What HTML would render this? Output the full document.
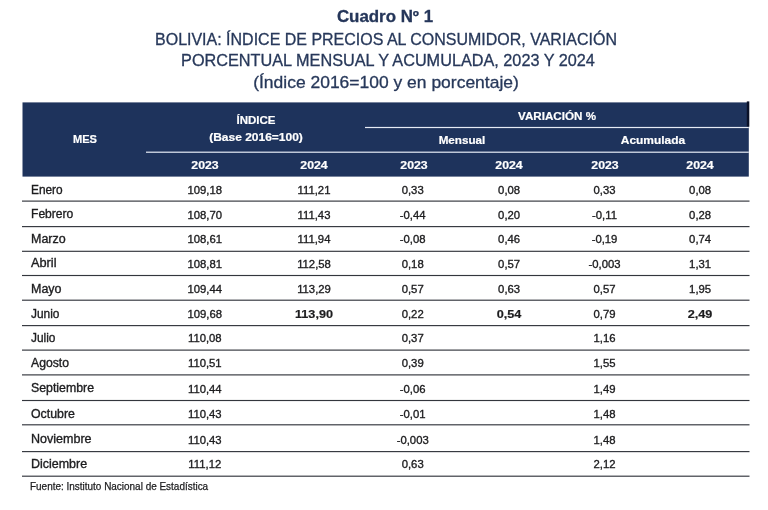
<!DOCTYPE html>
<html lang="es"><head><meta charset="utf-8"><title>Cuadro Nº 1</title>
<style>
html,body{margin:0;padding:0;background:#fff;}
body{width:768px;height:510px;position:relative;overflow:hidden;font-family:"Liberation Sans","DejaVu Sans",sans-serif;color:#1d1d1f;}
.t{position:absolute;color:#27385a;white-space:nowrap;font-size:16.4px;line-height:20px;-webkit-text-stroke:0.3px #27385a;}
.t1{font-weight:bold;color:#25365a;}
.h{position:absolute;color:#fff;font-weight:bold;font-size:11.8px;line-height:14px;white-space:nowrap;-webkit-text-stroke:0.2px #fff;}
.c{position:absolute;font-size:12.3px;line-height:14px;white-space:nowrap;-webkit-text-stroke:0.35px #1d1d1f;}
.c b{-webkit-text-stroke:0.2px #1d1d1f;}
.l{transform-origin:0 50%;}
.nn{font-size:11.3px;}
.src{position:absolute;font-size:10.9px;line-height:13px;color:#1d1d1f;white-space:nowrap;transform-origin:0 50%;-webkit-text-stroke:0.25px #1d1d1f;}
svg{position:absolute;left:0;top:0;}
</style></head><body>
<div class="t t1" style="left:385px;top:6.02px;transform:translateX(-50%) scaleX(1.0292777081131053);">Cuadro Nº 1</div>
<div class="t" style="left:385.9px;top:28.72px;transform:translateX(-50%) scaleX(0.9753565263633257);">BOLIVIA: ÍNDICE DE PRECIOS AL CONSUMIDOR, VARIACIÓN</div>
<div class="t" style="left:388px;top:50.32px;transform:translateX(-50%) scaleX(0.9909673564820755);">PORCENTUAL MENSUAL Y ACUMULADA, 2023 Y 2024</div>
<div class="t" style="left:385.9px;top:72.32px;transform:translateX(-50%) scaleX(1.065719716717062);">(Índice 2016=100 y en porcentaje)</div>
<svg width="768" height="510" viewBox="0 0 768 510"><rect x="22.5" y="102.4" width="726.3" height="74.2" fill="#1e335c"/><rect x="746.8" y="101.4" width="2.5" height="25.3" fill="#0a1128"/><rect x="365" y="126.9" width="383.8" height="1.2" fill="#e6ebf5"/><rect x="146" y="151.6" width="602.8" height="1.2" fill="#e6ebf5"/><rect x="22" y="200.53" width="727.5" height="1.15" fill="#33363d"/><rect x="22" y="226.03" width="727.5" height="1.15" fill="#33363d"/><rect x="22" y="250.73" width="727.5" height="1.15" fill="#33363d"/><rect x="22" y="274.93" width="727.5" height="1.15" fill="#33363d"/><rect x="22" y="299.62" width="727.5" height="1.15" fill="#33363d"/><rect x="22" y="325.03" width="727.5" height="1.15" fill="#33363d"/><rect x="22" y="349.53" width="727.5" height="1.15" fill="#33363d"/><rect x="22" y="374.32" width="727.5" height="1.15" fill="#33363d"/><rect x="22" y="399.93" width="727.5" height="1.15" fill="#33363d"/><rect x="22" y="424.23" width="727.5" height="1.15" fill="#33363d"/><rect x="22" y="451.03" width="727.5" height="1.15" fill="#33363d"/><rect x="22" y="475.62" width="727.5" height="1.15" fill="#33363d"/></svg>
<div class="h" style="left:85px;top:132.21px;transform:translateX(-50%) scaleX(0.9385778980547973);">MES</div>
<div class="h" style="left:256.2px;top:113.21px;transform:translateX(-50%) scaleX(0.9752389335387169);">ÍNDICE</div>
<div class="h" style="left:256px;top:129.51px;transform:translateX(-50%) scaleX(1.0164718338583838);">(Base 2016=100)</div>
<div class="h" style="left:557px;top:109.11px;transform:translateX(-50%) scaleX(0.9860038024351765);">VARIACIÓN %</div>
<div class="h" style="left:461.7px;top:133.11px;transform:translateX(-50%) scaleX(0.9891594897885698);">Mensual</div>
<div class="h" style="left:653.25px;top:133.11px;transform:translateX(-50%) scaleX(1.014119052859973);">Acumulada</div>
<div class="h" style="left:204.5px;top:157.66px;transform:translateX(-50%) scaleX(1.0436107408112738);">2023</div>
<div class="h" style="left:314px;top:157.66px;transform:translateX(-50%) scaleX(1.0436107408112738);">2024</div>
<div class="h" style="left:413.5px;top:157.66px;transform:translateX(-50%) scaleX(1.0436107408112738);">2023</div>
<div class="h" style="left:509px;top:157.66px;transform:translateX(-50%) scaleX(1.0436107408112738);">2024</div>
<div class="h" style="left:605px;top:157.66px;transform:translateX(-50%) scaleX(1.0436107408112738);">2023</div>
<div class="h" style="left:700px;top:157.66px;transform:translateX(-50%) scaleX(1.0436107408112738);">2024</div>
<div class="c l" style="left:30.8px;top:182.74px;transform:scaleX(0.9644137931034482);">Enero</div>
<div class="c nn" style="left:204.8px;top:183.08px;transform:translateX(-50%) scaleX(1.0);">109,18</div>
<div class="c nn" style="left:314px;top:183.08px;transform:translateX(-50%) scaleX(1.0);">111,21</div>
<div class="c nn" style="left:412.7px;top:183.08px;transform:translateX(-50%) scaleX(1.0);">0,33</div>
<div class="c nn" style="left:509.1px;top:183.08px;transform:translateX(-50%) scaleX(1.0);">0,08</div>
<div class="c nn" style="left:604.5px;top:183.08px;transform:translateX(-50%) scaleX(1.0);">0,33</div>
<div class="c nn" style="left:700.1px;top:183.08px;transform:translateX(-50%) scaleX(1.0);">0,08</div>
<div class="c l" style="left:30.8px;top:207.44px;transform:scaleX(0.9829473684210527);">Febrero</div>
<div class="c nn" style="left:204.8px;top:207.78px;transform:translateX(-50%) scaleX(1.0);">108,70</div>
<div class="c nn" style="left:314px;top:207.78px;transform:translateX(-50%) scaleX(1.0);">111,43</div>
<div class="c nn" style="left:412.7px;top:207.78px;transform:translateX(-50%) scaleX(1.0);">-0,44</div>
<div class="c nn" style="left:509.1px;top:207.78px;transform:translateX(-50%) scaleX(1.0);">0,20</div>
<div class="c nn" style="left:604.5px;top:207.78px;transform:translateX(-50%) scaleX(1.0);">-0,11</div>
<div class="c nn" style="left:700.1px;top:207.78px;transform:translateX(-50%) scaleX(1.0);">0,28</div>
<div class="c l" style="left:30.8px;top:231.84px;transform:scaleX(1.0150666666666666);">Marzo</div>
<div class="c nn" style="left:204.8px;top:232.18px;transform:translateX(-50%) scaleX(1.0);">108,61</div>
<div class="c nn" style="left:314px;top:232.18px;transform:translateX(-50%) scaleX(1.0);">111,94</div>
<div class="c nn" style="left:412.7px;top:232.18px;transform:translateX(-50%) scaleX(1.0);">-0,08</div>
<div class="c nn" style="left:509.1px;top:232.18px;transform:translateX(-50%) scaleX(1.0);">0,46</div>
<div class="c nn" style="left:604.5px;top:232.18px;transform:translateX(-50%) scaleX(1.0);">-0,19</div>
<div class="c nn" style="left:700.1px;top:232.18px;transform:translateX(-50%) scaleX(1.0);">0,74</div>
<div class="c l" style="left:30.8px;top:256.34px;transform:scaleX(1.037090909090909);">Abril</div>
<div class="c nn" style="left:204.8px;top:256.68px;transform:translateX(-50%) scaleX(1.0);">108,81</div>
<div class="c nn" style="left:314px;top:256.68px;transform:translateX(-50%) scaleX(1.0);">112,58</div>
<div class="c nn" style="left:412.7px;top:256.68px;transform:translateX(-50%) scaleX(1.0);">0,18</div>
<div class="c nn" style="left:509.1px;top:256.68px;transform:translateX(-50%) scaleX(1.0);">0,57</div>
<div class="c nn" style="left:604.5px;top:256.68px;transform:translateX(-50%) scaleX(1.0);">-0,003</div>
<div class="c nn" style="left:700.1px;top:256.68px;transform:translateX(-50%) scaleX(1.0);">1,31</div>
<div class="c l" style="left:30.8px;top:281.84px;transform:scaleX(1.0155384615384617);">Mayo</div>
<div class="c nn" style="left:204.8px;top:282.18px;transform:translateX(-50%) scaleX(1.0);">109,44</div>
<div class="c nn" style="left:314px;top:282.18px;transform:translateX(-50%) scaleX(1.0);">113,29</div>
<div class="c nn" style="left:412.7px;top:282.18px;transform:translateX(-50%) scaleX(1.0);">0,57</div>
<div class="c nn" style="left:509.1px;top:282.18px;transform:translateX(-50%) scaleX(1.0);">0,63</div>
<div class="c nn" style="left:604.5px;top:282.18px;transform:translateX(-50%) scaleX(1.0);">0,57</div>
<div class="c nn" style="left:700.1px;top:282.18px;transform:translateX(-50%) scaleX(1.0);">1,95</div>
<div class="c l" style="left:30.8px;top:306.54px;transform:scaleX(0.9677037037037037);">Junio</div>
<div class="c nn" style="left:204.8px;top:306.88px;transform:translateX(-50%) scaleX(1.0);">109,68</div>
<div class="c nn" style="left:314px;top:306.88px;transform:translateX(-50%) scaleX(1.12);"><b>113,90</b></div>
<div class="c nn" style="left:412.7px;top:306.88px;transform:translateX(-50%) scaleX(1.0);">0,22</div>
<div class="c nn" style="left:509.1px;top:306.88px;transform:translateX(-50%) scaleX(1.12);"><b>0,54</b></div>
<div class="c nn" style="left:604.5px;top:306.88px;transform:translateX(-50%) scaleX(1.0);">0,79</div>
<div class="c nn" style="left:700.1px;top:306.88px;transform:translateX(-50%) scaleX(1.12);"><b>2,49</b></div>
<div class="c l" style="left:30.8px;top:330.64px;transform:scaleX(0.968);">Julio</div>
<div class="c nn" style="left:204.8px;top:330.98px;transform:translateX(-50%) scaleX(1.0);">110,08</div>
<div class="c nn" style="left:412.7px;top:330.98px;transform:translateX(-50%) scaleX(1.0);">0,37</div>
<div class="c nn" style="left:604.5px;top:330.98px;transform:translateX(-50%) scaleX(1.0);">1,16</div>
<div class="c l" style="left:30.8px;top:355.74px;transform:scaleX(0.9935999999999999);">Agosto</div>
<div class="c nn" style="left:204.8px;top:356.08px;transform:translateX(-50%) scaleX(1.0);">110,51</div>
<div class="c nn" style="left:412.7px;top:356.08px;transform:translateX(-50%) scaleX(1.0);">0,39</div>
<div class="c nn" style="left:604.5px;top:356.08px;transform:translateX(-50%) scaleX(1.0);">1,55</div>
<div class="c l" style="left:30.8px;top:381.24px;transform:scaleX(1.0023157894736843);">Septiembre</div>
<div class="c nn" style="left:204.8px;top:381.58px;transform:translateX(-50%) scaleX(1.0);">110,44</div>
<div class="c nn" style="left:412.7px;top:381.58px;transform:translateX(-50%) scaleX(1.0);">-0,06</div>
<div class="c nn" style="left:604.5px;top:381.58px;transform:translateX(-50%) scaleX(1.0);">1,49</div>
<div class="c l" style="left:30.8px;top:406.74px;transform:scaleX(1.0028000000000001);">Octubre</div>
<div class="c nn" style="left:204.8px;top:407.08px;transform:translateX(-50%) scaleX(1.0);">110,43</div>
<div class="c nn" style="left:412.7px;top:407.08px;transform:translateX(-50%) scaleX(1.0);">-0,01</div>
<div class="c nn" style="left:604.5px;top:407.08px;transform:translateX(-50%) scaleX(1.0);">1,48</div>
<div class="c l" style="left:30.8px;top:432.34px;transform:scaleX(1.0188148148148148);">Noviembre</div>
<div class="c nn" style="left:204.8px;top:432.68px;transform:translateX(-50%) scaleX(1.0);">110,43</div>
<div class="c nn" style="left:412.7px;top:432.68px;transform:translateX(-50%) scaleX(1.0);">-0,003</div>
<div class="c nn" style="left:604.5px;top:432.68px;transform:translateX(-50%) scaleX(1.0);">1,48</div>
<div class="c l" style="left:30.8px;top:456.94px;transform:scaleX(1.01384);">Diciembre</div>
<div class="c nn" style="left:204.8px;top:457.28px;transform:translateX(-50%) scaleX(1.0);">111,12</div>
<div class="c nn" style="left:412.7px;top:457.28px;transform:translateX(-50%) scaleX(1.0);">0,63</div>
<div class="c nn" style="left:604.5px;top:457.28px;transform:translateX(-50%) scaleX(1.0);">2,12</div>
<div class="src" style="left:29.6px;top:479.52px;transform:scaleX(0.9138945284729657);">Fuente: Instituto Nacional de Estadística</div>
</body></html>
